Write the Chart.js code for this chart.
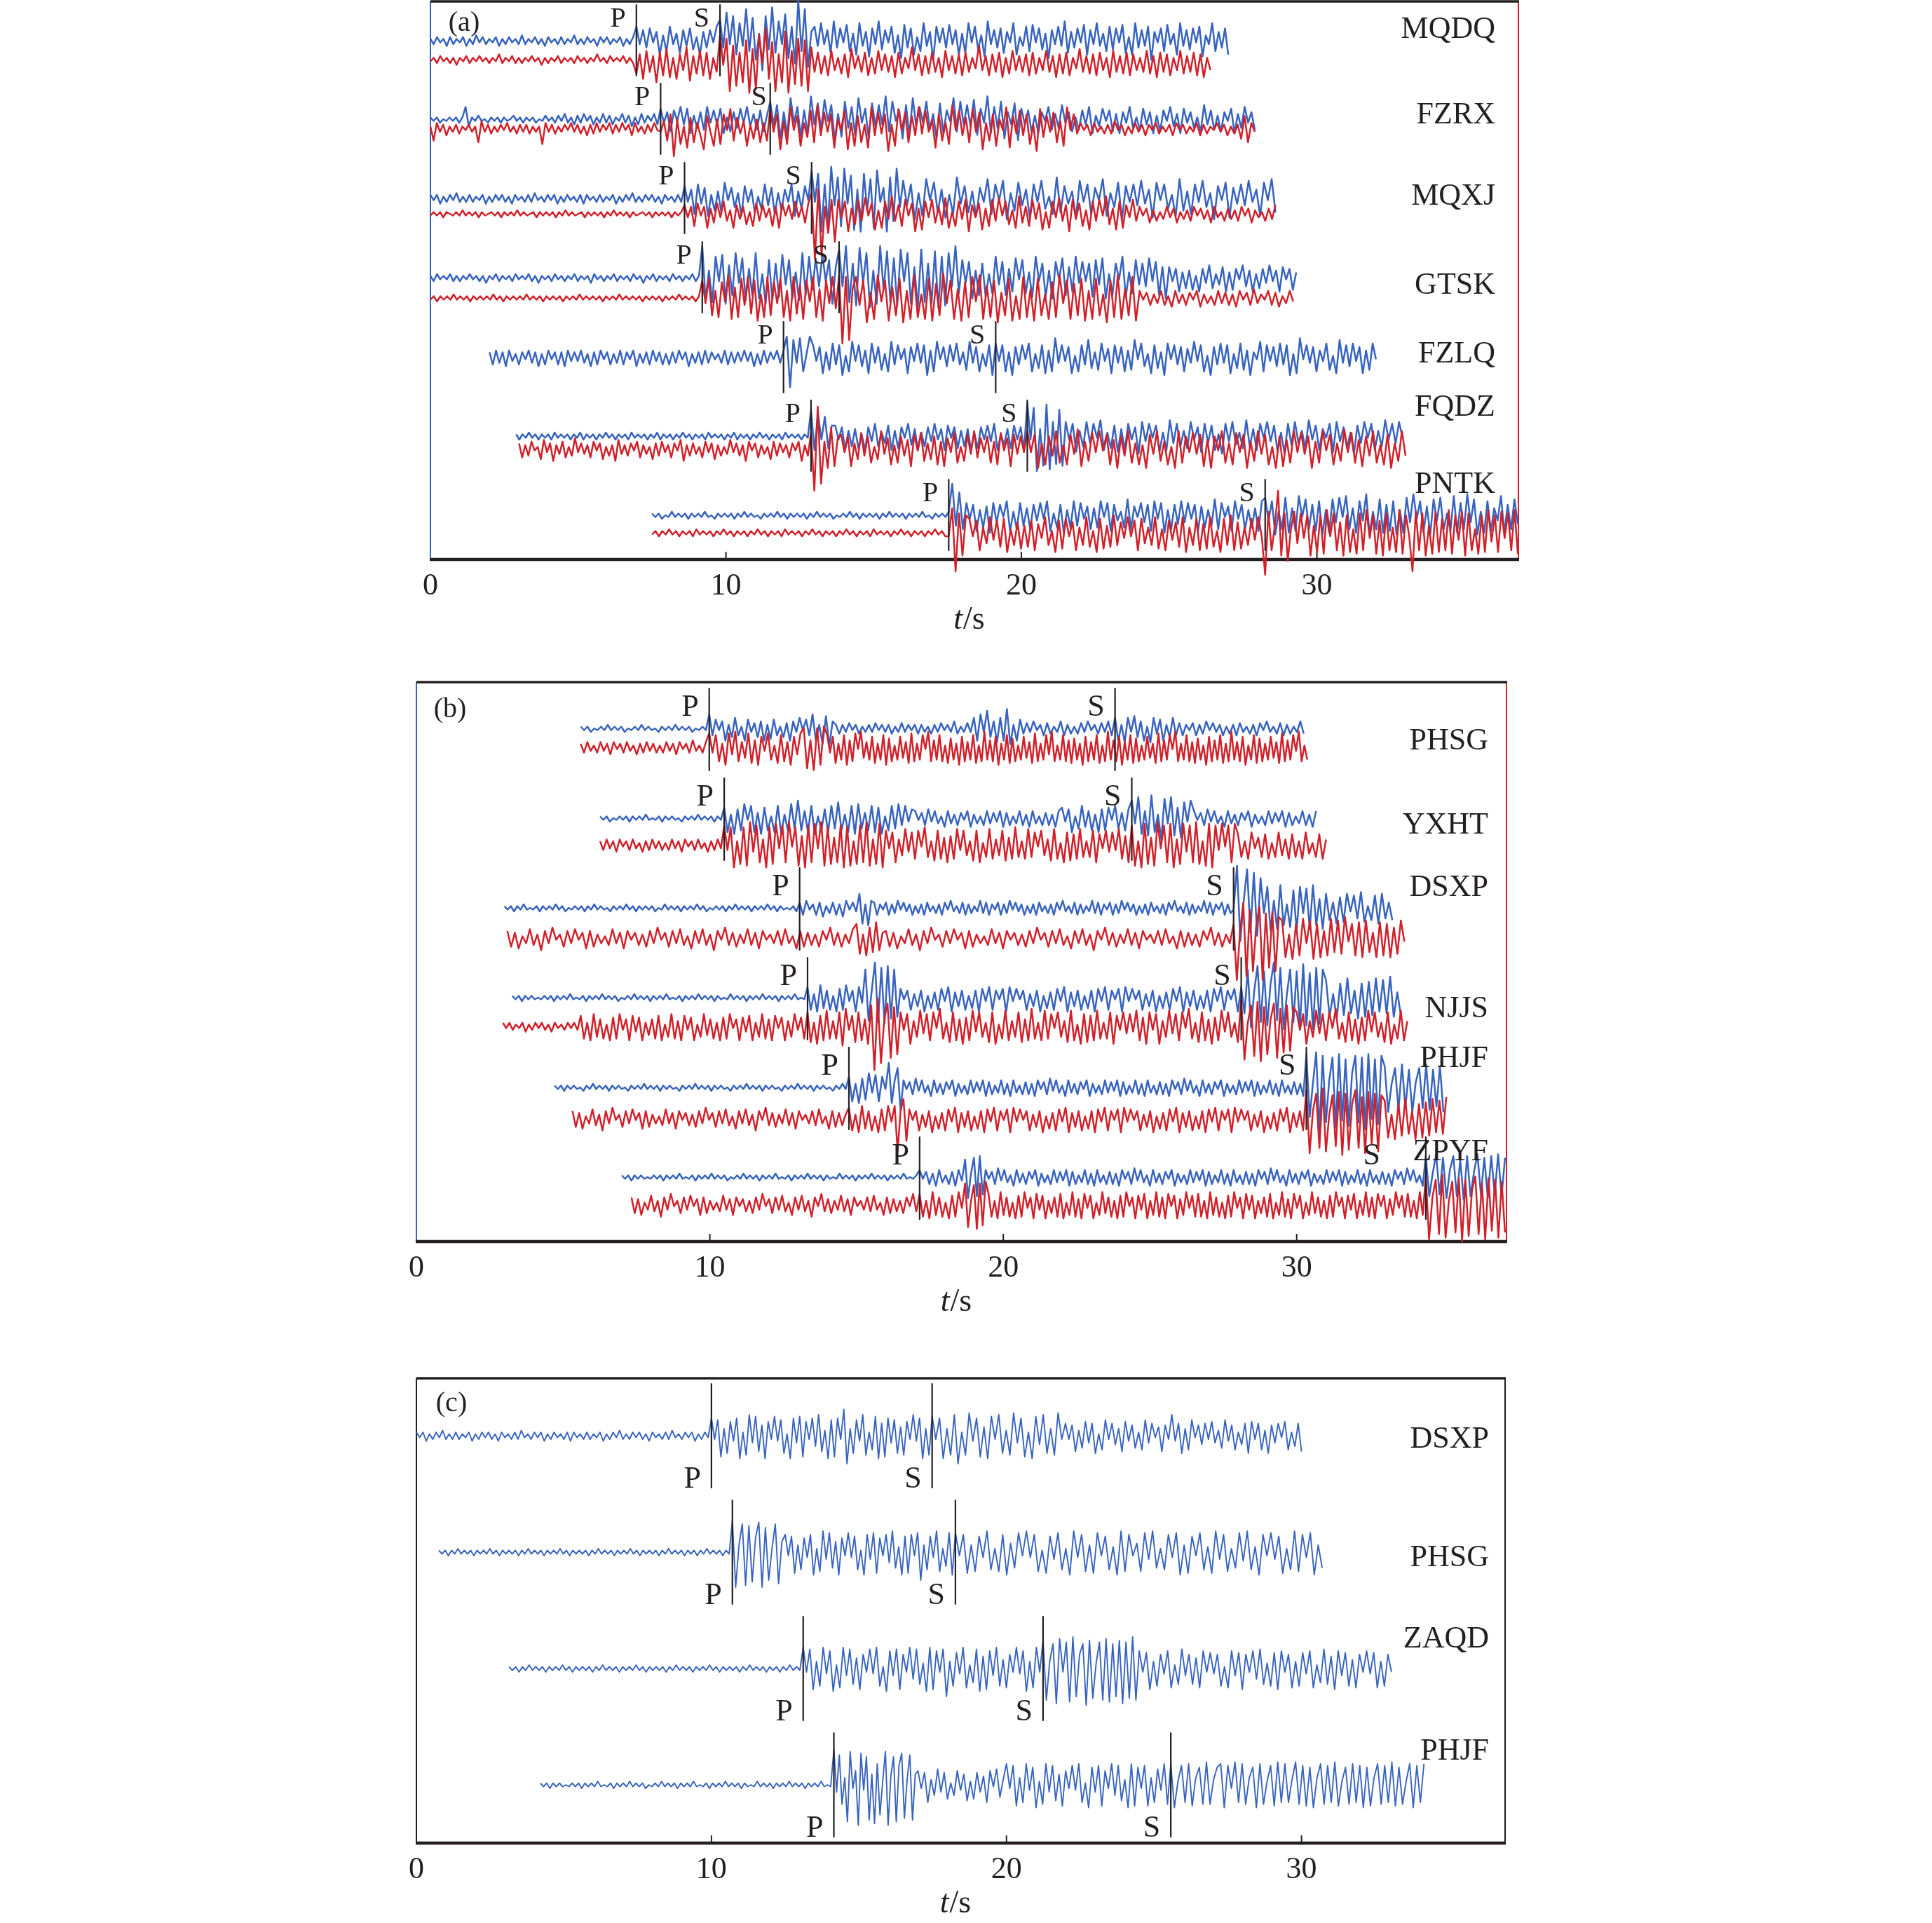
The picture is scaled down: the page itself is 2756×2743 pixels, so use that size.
<!DOCTYPE html>
<html>
<head>
<meta charset="utf-8">
<style>
  body { margin: 0; background: #fff; width: 2756px; height: 2743px; position: relative; overflow: hidden; }
  canvas { position: absolute; left: 0; }
</style>
</head>
<body>
<canvas id="panelA" width="2756" height="930" style="top:0px"></canvas>
<canvas id="panelB" width="2756" height="970" style="top:930px"></canvas>
<canvas id="panelC" width="2756" height="843" style="top:1900px"></canvas>
<script src="https://cdn.jsdelivr.net/npm/chart.js@4.4.1/dist/chart.umd.min.js"></script>
<script>
// ---- data ----
// tick values of the time axis (s)
const ticksT = [0, 10, 20, 30];

// Traces: [t0, samples, t1, samples, t2, ...]; each sample char is an amplitude level:
// '0' = 0, 'A'..'Z' = +1..+26 (up), 'a'..'z' = -1..-26 (down). Segment bounds are times in s.

// (a)
const aStations = ['MQDQ', 'FZRX', 'MQXJ', 'GTSK', 'FZLQ', 'FQDZ', 'PNTK'];
const aP = [6.97, 7.79, 8.6, 9.2, 11.95, 12.88, 17.54];
const aS = [9.8, 11.5, 12.9, 13.83, 19.13, 20.2, 28.25];
const aBlue = [
  [0, 'AbBaAcBbAaBcAbCaBbAaBcAbBaAbCbAaBbAcBaAbBbAaCbAbBaAcBaBbAaBcAbB', 6.97, 'HbFdGaEhCfHbDgFcGeBhEdFaH', 9.8, 'LdPbNhJcRfMkDqNeSgKbOjHmWfRoE', 13.0, 'HcJbFgKdGaIfDhJcEiGbKeFaHgCjIdGhBfJcEkHaGdIbFhDgJaHeCiKbFdGgEaJhBcHfIaGeDjFbHcKgEdGaIhFbJcDfHeGaIgBhJdFcHkEaGfIbDhJcFeGaHiCbJfEdGh', 27.0],
  [0, 'AaAb0aAaAbAGdAaBa0bAaAbAa0BaAbAaAb0aBaAbBaCbAcBbCaBcAbCbBcAaCbBdAcCbBaCc', 7.79, 'FbDgEaGcFhBeDfGbEcFhAgDeFbGdCfEgB', 11.5, 'JcHkDiLbGjEhMcIfKaHlCjJeGiLbFkIdHcMgJaEkHiLdGbJfCkIhEaLgJcHdKiFbMhGeJkDcIl', 20, 'FcEgBhDaGfCeHbDgAfEcGhBdFaEgChDbGeAfFcDhBgEaGdChFbDeAgHcEfBgDaFhCeGbDf', 27.9],
  [0, 'BaBcAbBaCbAbBbAaBcAbBaBbAcBaAbBbCaAbBaBcAbBaAbBcBaAbBbAaBcAbBaCbAbBaBbAcBaAbBb', 8.6, 'GbEiHcFjBgDhIaFeCjGbEhAfHdFiCgEbHjDfGa', 12.9, 'PbNsHoRdLpQcMrEsNgKqPbFsLmQe', 16, 'JdHlCjKaIhEkBiLcGhDjFbKiHaJlCgIdEkHbJfAiLhGcDkJbHiFaKjCeIlGbHdJcEkIaHfBjKgDiHbJeClGaIkFcHdJbEjIaKh', 28.6],
  [0, 'AbBaAaBbAbAaBaAbAcAaBbAaAbBaAaBbAcAaAbBaAbAaBbAaAcBaAbAaBbAaAbBaAcAaBbAaAbBaAbAaBbA', 9.2, 'RmDnLbMoGjNcKmEjNlBoJmHkMdJlCmNjLgKeMbJoF', 13.83, 'PeRnHpQcNqDoRgOnKpPbNoFqPnHoOqLpNeRi', 18, 'JcIlDjHkBiLdIjEhKaJiCkLbHkDlIaKjFhLcIbHkJdKlBjHaLkCiJdHeKbIjFl', 25, 'FbEhCfDgAhEcGfBdFhCgEaGeDhBfEcGbDhFaEgC', 29.3],
  [2.0, 'CdDcCeDbBdCaDcCeBdDaCdCeDbCbDcBeCdDaCdBcDdCaDeBcCdDbCdBdCcDaCeBcCdDcCaBcDdCcCbDbCeBdDcCaDc', 11.95, 'DLqJcKhBL', 12.95, 'GbFiCgHdGjAhIbGeDiHcFgBhIdGaEiFbHcGjDhIaFeGbHdCgIcFhBeGj', 19.13, 'HbGhCjFdGaHhBfGiDhKcGbFiAhGdJfCgHbEiGcFhDgJaHeBiGfCjHaGdFhEcIbGhAjFdHcGiBfHgDjCaIhGbFeHdGjBiKaGcFhDbHgAiJcGeHbFiDgHa', 32.0],
  [2.9, 'AbAaBaAbAaAbBaAaAbAaBbAaAbAaBaAbAaAbBaAaAbAaBbAaAbAaBaAbAaAbBaAaAbAaBbAaAbAaBaAbAaAbBaAaAbAa', 12.88, 'OhMbKgF', 13.7, 'FbEhCfDgAhEcGfBdFhCgEaGeDhBfEcGbDhFaEgCfDhBgEbFcGhAeDgFbEh', 20.2, 'SbPtDqRsHpOq', 21.5, 'HbGiCfHdGaIhBgFiDhGbEjHcGaFiBhIdGfCgHbEiGdFhAjGcHeBgIfDhGaHcFiBjGeHdCgIbFhDaGiHcEgBjFdHaGhCfIbGdHa', 32.9],
  [7.5, 'AaAb0aBaAaAbAaAaBa0bAaAaAbAaBaAa0bAaAaBaAbAaAaAbAaBaAaAb0aAaBaAbAaAaAbAaBaAaAbAaAaBa0bAaAa', 17.54, 'BRfMh', 18.14, 'GbFiCgEjGdFaHiBhGfDhFcGbHiAgFjCgHfGbEhDgHaGiFcBgIhEaGdFiHbGjChFeHdGbFiEgCfIhGaEiHbFhCgDiH', 28.25, 'JcHkBhJjDiKaIhFiHkCjIdJaKhDjHcLkBhIjFiHkCjJdLbHjEkIcJhAiKjGhLdIkBjHiDcKjFhIe', 36.8]
];
const aRed = [
  [0, 'aAbBaAbAcAaBbAaBaAbAaCbAaBbAbAaBaAcAbAaBbAaAbBaAbAaCaAbBaAaBbAb', 6.97, 'hCkEgBmDiFjAkCfGlBhEiDkAg', 9.8, 'NcLrHoDmKsFqNbRkJrCmPsEnLoKrG', 13.0, 'gDhBiEfAhCjFeBgDiAhEfCgBjDhAeGfCiBhDgAjEfBhCiDgAeHfBiCgDjAhEfBgCiDhAfEgBjChDiAeFgBhCiDfAjEgBhDiCfAgEhBjDgCiAfEhBgDiCjAf', 26.4],
  [0, 'AgCbBdAbBcAaBbAhDbBcAbBaCbAcBbBcAbAiCbBcAbBaCbBcAdBcCbBaCcBbCaBdCbAcBbCa', 7.79, 'bDgHpEiAkFhCdlGbjEiHaKgFcDjBfEhCg', 11.5, 'KbHlDiLaGjCeJhMdIbHkEaJlCjGhBkLdIcHmBjKaIhGdLcJbEkHgCiMaJdFhKbIlCgHjEaLkGcJdHiBmKeGbIhDjLaHc', 22, 'CaBdCbAcBcDaBdAcCbBdBaCcAbBdCaBcAbCdBcAaCbBdAcBfGhCb', 27.9],
  [0, 'aAaAbA0aAaBaAaAbAa0AaAbAaAaBaAa0AbAaAaAbAaBaAa0AbAaAaAbAaBaAaAbAa0AaAbAaAaAbAaA', 8.6, 'EbDgFaDhCeFbGdBhEcDfAgFdEbCgDhFaEcGbDeF', 12.9, 'LzNxDkHp', 13.8, 'HbGjCfHdIaFiBhGcJdEgHaFjCiGbHeDfIhAgGcHjEbFiCgHdIaGfBhJeDgHcFiAhGbIdEjHcFgBiGdHaJfCiGhEbHd', 24, 'DaCeBdAcDbCeAcBdDaCcBeDbAdCcBdDaCeBbAdCcE', 28.6],
  [0, 'aAbAaAaBaAaAbAaAaAaBaAbAaAaAaBaAaAbAaAaAbAaAaBaAaAaAbAaAaBaAaAaAbAaAaAbAaAaBaAaAbA', 9.2, 'JcKjDkIbMlFkKdLiJmBkLjIcKkDmLiGlJbLkEmJcLf', 13.83, 'MzLxE', 14.4, 'LdJnClMbJmFjKnDlMkBlKmHjNcJlEmIkLbMlGkJnCjKmAlLkEmKjBlIkMcJlHjKmDlKjBnJkMlEjLm', 24, 'DaCdBcDdAeDcBdCaDeBcAdDcCdBeDaCdEcBaDdCeAcDb', 29.2],
  null,
  [3.0, 'CeBdDaAfEbCgBcDeAdFbCcBeDaCfAdBgEcBdCaDeBcAfCdDbBeCaEgBdCcAeDbCfBdAcEbCdBgDaCeBcAfDdCbBeCaDgBd', 12.88, 'IxXtDkLjF', 13.9, 'HbGjCfIdGhAfJcFiBhGdEjHaIgCfGiDjFbIhAgHcJeFbGhDiIaFjHcGb', 20.2, 'JbHkCiGdJhBiHcKjDgIbJaHiEkGdJhCiBkHcJgDiAkJhGbIcHjEkGaJhCiIbHkDgJcHiAkGjEhJbIcGkDhJaHiCgKbIhEjGdJhBiHkCgJd', 33.0],
  [7.5, 'aAbAaBaAbAaAbBaAaAbAaBaAbAaAbAaBaAbAaAbBaAaAbAaBaAbAaAbAaBaAbAaAbBaAaAbAaBaAbAaAbAaBaAb', 17.54, 'bNvKmJ', 18.24, 'HbGjCfIdGhHkBgFiDhGjEcIgAkGiHbFjCgIhAkHiDhJgFcIbGjHfCgIiBjGdFhIkCgHjEiIhAkHgJjFiCgHdIb', 28.25, 'xLjDXmKpBLf', 29.45, 'KcJmDkJlMbKjFmJkBlKjMcJlGmKjCkMlJbvLjKmDlLkHjMlJdLmKjBlJkMeJkLcKjMl', 36.8]
];

// (b)
const bStations = ['PHSG', 'YXHT', 'DSXP', 'NJJS', 'PHJF', 'ZPYF'];
const bP = [9.98, 10.49, 13.06, 13.33, 14.74, 17.15];
const bS = [23.81, 24.38, 27.85, 28.11, 30.33, 34.4];
const bBlue = [
  [5.6, 'AaAb0aAaBaAaAb0aAaBaAa0bAaAaBaAaAb0aAa', 9.98, 'HdEaDgBeFdAgEbCeDgBfEdAeCgDbFaEd', 13.5, 'HgBiGjD', 14.3, 'BcBbCaBcAbBbCaBbBcAbCbBaBcBbAcBbCaBbDcAbCb', 19, 'FgHbJeDhFgKiBgEc', 20.8, 'CbDaBdCcAbDdBcAcCbDaBcCbDd', 23.81, 'FgBhFbGeDgAhFcEgBeFd', 26, 'CdBaCdBcDaCbBdAcBdCbAcBdCaDbAcCdBcAbDc', 30.24],
  [6.26, 'AaAb0aAaAbAaAaBa0aAbAaAa0bAaAaBaAaAbAa', 10.49, 'FhBiEgHaGhCiFgAhGiBgHfJgDhGiAgEhGfIgBhGiHfCgGhFiAgGfHdGbE', 17, 'DaCdEbDcAeDcBdCaDeBcAdDcCbDeCdAcDdBeDcAdCdBeD', 22, 'FbEhAfGeDgBhEgFaGfCgE', 24.38, 'JcLiDjMhBlKcLjFkIbJ', 26.5, 'DaCdEbDcAeDcBdCaDeBcAdDcCbDeCdAcDdBeD', 30.66],
  [3.0, 'AaAbAaBa0aAbAaAaBaAb0aAaAbAaBaAa0bAaAaBaAbAaAaAb0aBaAaAbAaAaBaAb0aAaAbAaBaAaAbAaAaBaAbAa0aAb', 13.06, 'CdDaBdCeAcCdBeDaCb', 15.1, 'HiBjD', 15.6, 'CdBaCdBcDaCbBdAcBdCbAcBdCaDbAcCdBcAbDcCdBaCdBcDaCbBdAcBdCbAcBdCaDbAcCdBcAbDcCdBaCdBcDaCbBdAcBdCbAcBdCaDbAcCdBcAbDcCdBaCdBc', 27.85, 'aXsDVnTpQc', 29, 'LmDlMjBkJmLcKlMjEl', 31, 'HgCiFhHbGfIhAgGiHfCg', 33.26],
  [3.27, 'AaAbAaAa0aAaAbAaAaBa0aAbAaAaBaAaAb0aAaBaAaAbAaAaBa0aAbAaAaBaAaAbAa0aBaAaAbAaAaBaAaAbAaAaBa0a', 13.33, 'FgBhGfDgAhEgGbDhFc', 15.3, 'PmDTnQoRlPk', 16.5, 'EaDgBeDhAfCgEbFhCeDgAfDhEbFgDaEhFbEaDgBeDhAfCgEbFhCeDgAfDhEbFgDaEhFbEaDgBeDhAfCgEbFhCeDgAfDhEbFgDaEh', 28.11, 'FiPqDRnOpHTmQrBPnOqSpNrQoP', 31, 'JkBlHjKiDlHkIjKhJiLkCj', 33.55],
  [4.71, 'AaAbAaAa0bAaBaAaAbAaAa0bAaAaBaAaAbAaAa0bAaAaBaAaAbAaAa0bAaAaBaAaAbAaAa0bAaAaBaAaAbAaAa0bAaBa', 14.74, 'FhBiEgHcGhFa', 16.1, 'NiDKm', 16.6, 'DaCdEbDcAeDcBdCaDeBcAdDcCbDeCdAcDdBeDcAdCdBeDaCdEbDcAeDcBdCaDeBcAdDcCbDeCdAcDdBeDcAdCdBeDaCdEbDcAeDcBdCaDeBcAdDcCbDeCdAcDdBeDcAdCdBe', 30.33, 'SqBTyRtDQwSsPvHRtQxSrPuR', 33, 'LnBKmMlJnCKlMmJkLn', 35.0],
  [7.0, 'AaAbAaAa0aAaAbAaAaBa0aAbAaAaBaAaAb0aAaBaAaAbAaAaBa0aAbAaAaBaAaAbAa0aBaAaAbAaAaBaAaAbAaAaBa0aA', 17.15, 'DaCdBeDcAdCeDb', 18.7, 'JlBKkLj', 19.4, 'DaCdEbDcAeDcBdCaDeBcAdDcCbDeCdAcDdBeDcAdCdBeDaCdEbDcAeDcBdCaDeBcAdDcCbDeCdAcDdBeDcAdCdBeDaCdEbDcAeDcBdCaDeBcAdDcCbDeCdAcDdBeDcAdCdBeDaCdEbDcAe', 34.4, 'LkBMjKlDLkJmLkCMjKlLjMkK', 37.1]
];
const bRed = [
  [5.6, 'BcCbAcCbBdCaBcCbAdBcCbBcAcCbBdCaBcDbAcC', 9.98, 'HcGhBjHdIhCfHiDjFbHgAiGhCjFdH', 13.2, 'KlDmKjL', 14, 'GcFiBgGjDhHaIfCgFiBgGjEhAgFfCiHhBgGaIhDgGhAiEgBjFhCgGiAhIgDhFjBgGiEhAgFfCiHhBgGdIhAgGhDiEgBjFhCgGiAhIgDhFjCgGiEhAgFfBiHhDgGaIhBgGhCiEgAjFhDgGiBhIgChFjAgGiEhBgFfCiHhDgGbIhAg', 30.36],
  [6.26, 'BcCbBdCaBcCbAdBcCbBcAcCbBdCaBcCbAdBcCb', 10.49, 'KcJmBkJlMdKjCmJkLbKjMaJlEmKjLbMlJkDjKmJlBkKjMlCkLm', 16, 'HbGjCfIdGhHaJgBiHhDjEhIcHfBiHjAgIhCfHiDhJgBhIgGaHfCiIhAjGiFhIgBgHjFbHdGcIhEj', 24.38, 'KlBmLkDlMbKjLmCkLdKjMkBlLmKcLaKjL', 28, 'FgBhGbDgFhAgGfChFgBhGeAgFhC', 31.0],
  [3.1, 'DeCfAcEdBgDcFaBeDcEaCfDeBcAdEcCfDaCdBeDcFaCeDcEdAfDcEdBgDaFdCeBcEdCfDaBcDdEcAfDeCdBeDaFdCeBcE', 15, 'HiBjFhIgC', 16, 'DeCfAcEdBgDcFaBeDcEaCfDeBcAdEcCfDaCdBeDcFaCeDcEdAfDcEdBgDaFdCeBcEdCfDaBcDdEcAfDeCdBeDaFdCeBc', 27.85, 'HxDTvPsGRxNqOsL', 29.5, 'JkBlHjKcJlHkDjKhJiLbHjIkJhCkIjHkFiJb', 33.67],
  [2.95, 'BaBbAaBcAbBaBbAcBaAbBaBb', 5.6, 'FgBhGfDgAhEgGbDhFcEhBeDgFhAfGgChFbEhAfGeDgBhEgGaDhEcFhBfGgDhFaEhCfGbEg', 13.33, 'HiBjFhIgCgHkJbFiHhDj', 15.5, 'LyPuDMrKp', 16.5, 'HbGjCfIdGhHaJgBiHhDjEhIcHfBiHjAgIhCfHiDhJgBhIgGaHfCiIhAjGiFhIgBgHjFbHdGcIhEjHbGjCfIdGhHaJgBiHhDjEhIcHfBi', 28.11, 'PsBLqNtKpDMrJoLnK', 30, 'HbGjCfIdGhHaJgBiHhDjEhIcHfBiHjAgIhC', 33.77],
  [5.32, 'DeCfAcEdBgDcFaBeDcEaCfDeBcAdEcCfDaCdBeDcFaCeDcEdAfDcEdBgDaFdCeBcEdCfDaBcDdEcAfDeCdB', 14.74, 'FgBhGfDgAhEgGb', 16.3, 'GsDKm', 16.8, 'EaDgBeDhAfCgEbFhCeDgAfDhEbFgDaEhFbEaDgBeDhAfCgEbFhCeDgAfDhEbFgDaEhFbEaDgBeDhAfCgEbFhCeDgAfDhEbFgDaEhFbEaDgBeDhAfCgEbFhCeDg', 30.33, 'PtDNqQsBMpOuNrHPqLtOoNsM', 33, 'JkBlHjKiDlHkIjKhJiL', 35.1],
  [7.33, 'DeCfAcEdBgDcFaBeDcEaCfDeBcAdEcCfDaCdBeDcFaCeDcEdAfDcEdBgDaFdCeBcEdCfDaBcDdEcAfDeCdBeDaFd', 17.15, 'FgBhGfDgAhEgGb', 18.7, 'LmBKnLlM', 19.5, 'FgBhGfDgAhEgGbDhFcEhBeDgFhAfGgChFbEhAfGeDgBhEgGaDhEcFhBfGgDhFaEhCfGbEgFgBhGfDgAhEgGbDhFcEhBeDgFhAfGgChFbEhAfGeDgBhEgGaDhEcFhBfGgDhFaEhCfGbEgFgBhGf', 34.4, 'PtDNqQsBMpOuNrHPqLtOoNsMp', 37.1]
];

// (c)
const cStations = ['DSXP', 'PHSG', 'ZAQD', 'PHJF'];
const cP = [10.0, 10.71, 13.11, 14.15];
const cS = [17.48, 18.27, 21.24, 25.57];
const cTrace = [
  [0, 'BaBcAbBaCbAbBbAaBcAbBaBbAcBaAbBbCaAbBaBcAbBaAbBcBaAbBbAaBcAbBaCbAbBaBbAcBaAbBbCaAbBaBcAbBa', 10.0, 'JbIlDjHcJmBkLdKiFmHbKcIjAmJdKlHbJfLiCmIlJbOpDjIcLkBhKmGlJdIjEkHbLcJmDk', 17.48, 'KbJmDkLpBkMcJlEmKbLjCkMdJlBmKeLjDkMb', 22, 'GbFiCgHdGjAhIbGeDiHcFgBhIdGaEiFbLcGjDhIaFeGbHdCgIcFhBeGjHbGhCjFdGaHhBfGi', 30.0],
  [0.76, 'AaAbAaBaAaAbAaAaBaAbAaAaAbAaBaAaAbAaAaBaAbAaAaAbAaBaAaAbAaAaBaAbAaAaAbAaBaAaAbAaAbAaBaAaAbAa', 10.71, 'RtDPsOqHQtNpBPrF', 12.5, 'JbIlDjHcJmBkLdKiFmHbKcIjAmJdKlHbJfLiCmIlJbKpDjIcLkBhKm', 18.27, 'KbJlDkIcLjBkJmEiKbLcJkAlIdKjBmLcJkDlKbIjCmLkJbEkKdLiBjJcKmDlIbKjClLdJkBiKeLjCmJbKdIlBjLkJcKmDi', 30.7],
  [3.14, 'AaAbAaBaAaAbAaAaBaAbAaAaAbAaBaAaAbAaAaBaAbAaAaAbAaBaAaAbAaAaBaAbAaAaAbAaBaAaAbAaAbAaBaAa', 13.11, 'LbKlDjLcJmBkLdKiFlHbKcLjAmJdKlHbLfKiCmLlJbKpDjIcLkBhKmGlJdLjEkHbLcJmDkLb', 21.24, 'PrDNtQbOsRpHNuPqCOrQsNpPtOqRr', 24.5, 'JbIlDjHcJkBiKdHiFkJbIcHjAkJdIlHbJfKiCjIlJbHkDjIcJkBhKiGlJdIjEkHbJcIkDjHb', 33.05],
  [4.2, 'AaAbAaAa0aAaAbAaAaBa0aAbAaAaBaAaAb0aAaBaAaAbAaAaBa0aAbAaAaBaAaAbAa0aBaAaAbAaAaBaAaAbAaAaBa0a', 14.15, 'TdQkDuSbHwRcPtFvLqBSwEPuKRsCQtF', 17, 'HbGjCfIdGhAfHcFiBhGdEjHaIgC', 20, 'LbKlDjLcJmBkLdKiFlHbKcLjAmJdKlHbLfKiCmLlJbKlDjIcLk', 25.57, 'LmBKjLlDJkMkCJLmKbMjLkDJmLkBKlMjLjCMkKlJmDLkKjMlBJkLjKmJlDLkKjMlJkBLmKjL', 34.15]
];

// ---- layout ----
const INK = '#231f20', BLUE = '#3763be', RED = '#d0212a';
const SERIF = '"Liberation Serif", "Times New Roman", serif';
const AMP = 2.5;   // px per amplitude level

const panels = [
  { id: 'panelA', tag: '(a)', stations: aStations, P: aP, S: aS, blue: aBlue, red: aRed,
    blueY: [56, 168, 281, 394, 508, 620, 733], redY: [83, 181, 303, 423, null, 638, 758],
    labelY: [40, 162, 278, 405, 503, 579, 689], labelInset: 33, sShift: [0, 10, 0, 0, 0, 0, 0],
    box: { left: 614, top: 2, right: 2166, bottom: 798 }, tMax: 36.82,
    markUp: 51, markLen: 101, markFont: 40, letterDrop: 31, lettersBelow: false,
    leftColor: BLUE, rightColor: RED, lw: 2.5, tagX: 48, tagY: 31 },
  { id: 'panelB', tag: '(b)', stations: bStations, P: bP, S: bS, blue: bBlue, red: bRed,
    blueY: [66, 194, 322, 450, 578, 706], redY: [93, 232, 365, 491, 622, 745],
    labelY: [84, 204, 293, 466, 537, 670], labelInset: 26, sShift: [0, 0, 0, 0, 0, -50],
    box: { left: 594, top: 43, right: 2149, bottom: 841 }, tMax: 37.15,
    markUp: 57, markLen: 117, markFont: 44, letterDrop: 39, lettersBelow: false,
    leftColor: BLUE, rightColor: RED, lw: 2.5, tagX: 48, tagY: 39 },
  { id: 'panelC', tag: '(c)', stations: cStations, P: cP, S: cS, blue: cTrace, red: null,
    blueY: [82, 248, 414, 580], redY: null,
    labelY: [87, 256, 372, 532], labelInset: 23, sShift: [0, 0, 0, 0],
    box: { left: 594, top: 66, right: 2147, bottom: 729 }, tMax: 36.9,
    markUp: 74, markLen: 148, markFont: 44, letterDrop: 0, lettersBelow: true,
    leftColor: INK, rightColor: INK, lw: 1.9, tagX: 50, tagY: 36 }
];

function level(c) {
  if (c === '0') return 0;
  const k = c.charCodeAt(0);
  return k >= 97 ? 96 - k : k - 64;
}

function tracePoints(tr, base) {
  const pts = [];
  for (let i = 0; i + 2 < tr.length; i += 2) {
    const t0 = tr[i], s = tr[i + 1], t1 = tr[i + 2];
    const last = i + 3 >= tr.length;
    const dt = (t1 - t0) / (last ? s.length - 1 : s.length);
    for (let j = 0; j < s.length; j++) pts.push({ x: t0 + j * dt, y: base - level(s[j]) * AMP });
  }
  return pts;
}

function line(ctx, x1, y1, x2, y2) {
  ctx.beginPath(); ctx.moveTo(x1, y1); ctx.lineTo(x2, y2); ctx.stroke();
}

function decor(p) {
  return {
    id: 'decor',
    beforeDatasetsDraw(chart) {
      const { ctx, chartArea: a, scales: { x } } = chart;
      ctx.save();
      ctx.lineWidth = 2;
      ctx.strokeStyle = p.leftColor; line(ctx, a.left, a.top, a.left, a.bottom);
      ctx.strokeStyle = p.rightColor; line(ctx, a.right, a.top, a.right, a.bottom);
      ctx.strokeStyle = INK;
      ctx.lineWidth = 3.5; line(ctx, a.left, a.top, a.right + 1, a.top);
      ctx.lineWidth = 2;
      ticksT.forEach(v => {
        if (v === 0) return;
        const px = x.getPixelForValue(v);
        line(ctx, px, a.bottom, px, a.bottom - 11);
      });
      ctx.lineWidth = 4.5; line(ctx, a.left - 1, a.bottom, a.right + 1, a.bottom);
      ctx.restore();
    },
    afterDatasetsDraw(chart) {
      const { ctx, chartArea: a, scales: { x, y } } = chart;
      ctx.save();
      ctx.fillStyle = INK;
      // station names
      ctx.font = '44px ' + SERIF;
      ctx.textAlign = 'right'; ctx.textBaseline = 'middle';
      p.stations.forEach((n, k) => ctx.fillText(n, a.right - p.labelInset, y.getPixelForValue(p.labelY[k])));
      // P / S letters
      ctx.font = p.markFont + 'px ' + SERIF;
      ctx.textBaseline = 'alphabetic';
      p.stations.forEach((n, k) => {
        const top = y.getPixelForValue(p.blueY[k] - p.markUp);
        const bot = y.getPixelForValue(p.blueY[k] - p.markUp + p.markLen);
        const ty = p.lettersBelow ? bot : top + p.letterDrop;
        ctx.fillText('P', x.getPixelForValue(p.P[k]) - 15, ty);
        ctx.fillText('S', x.getPixelForValue(p.S[k]) - 15 + p.sShift[k], ty);
      });
      // panel tag
      ctx.font = '40px ' + SERIF;
      ctx.textAlign = 'center'; ctx.textBaseline = 'middle';
      ctx.fillText(p.tag, a.left + p.tagX, a.top + p.tagY);
      // axis title t/s
      const ty = a.bottom + 87, cx = (a.left + a.right) / 2 - 8;
      ctx.font = 'italic 46px ' + SERIF;
      const w1 = ctx.measureText('t').width;
      ctx.font = '46px ' + SERIF;
      const w2 = ctx.measureText('/s').width;
      ctx.textAlign = 'left';
      ctx.font = 'italic 46px ' + SERIF;
      ctx.fillText('t', cx - (w1 + w2) / 2, ty);
      ctx.font = '46px ' + SERIF;
      ctx.fillText('/s', cx - (w1 + w2) / 2 + w1 + 1, ty);
      ctx.restore();
    }
  };
}

function buildPanel(p) {
  const canvas = document.getElementById(p.id);
  const W = canvas.width, H = canvas.height;
  const datasets = [];
  p.stations.forEach((n, k) => {
    const top = p.blueY[k] - p.markUp;
    [p.P[k], p.S[k]].forEach(t => datasets.push({
      data: [{ x: t, y: top }, { x: t, y: top + p.markLen }],
      borderColor: INK, borderWidth: 2.2, order: 0, clip: false
    }));
    if (p.red && p.red[k]) datasets.push({
      data: tracePoints(p.red[k], p.redY[k]), borderColor: RED, borderWidth: p.lw, order: 1, clip: false
    });
    datasets.push({
      data: tracePoints(p.blue[k], p.blueY[k]), borderColor: BLUE, borderWidth: p.lw, order: 2, clip: false
    });
  });

  const chart = new Chart(canvas, {
    type: 'line',
    data: { datasets },
    options: {
      responsive: false, animation: false, devicePixelRatio: 1,
      layout: { padding: { left: p.box.left, top: p.box.top, right: W - p.box.right, bottom: H - p.box.bottom - 65 } },
      elements: { point: { radius: 0 }, line: { tension: 0, fill: false, borderJoinStyle: 'round' } },
      plugins: { legend: { display: false }, tooltip: { enabled: false } },
      scales: {
        x: {
          type: 'linear', min: 0, max: p.tMax,
          grid: { display: false, drawTicks: false }, border: { display: false },
          afterBuildTicks: s => { s.ticks = ticksT.map(v => ({ value: v })); },
          ticks: { color: INK, font: { family: SERIF, size: 44 }, padding: 12, maxRotation: 0 }
        },
        y: { type: 'linear', display: false, min: 0, max: p.box.bottom - p.box.top, reverse: true }
      }
    },
    plugins: [decor(p)]
  });

  // nudge layout padding so the plot area sits exactly on the frame box
  const a = chart.chartArea, pad = chart.options.layout.padding;
  pad.left += p.box.left - a.left;
  pad.top += p.box.top - a.top;
  pad.right += a.right - p.box.right;
  pad.bottom += a.bottom - p.box.bottom;
  chart.update();
  return chart;
}

panels.forEach(buildPanel);
</script>
</body>
</html>
